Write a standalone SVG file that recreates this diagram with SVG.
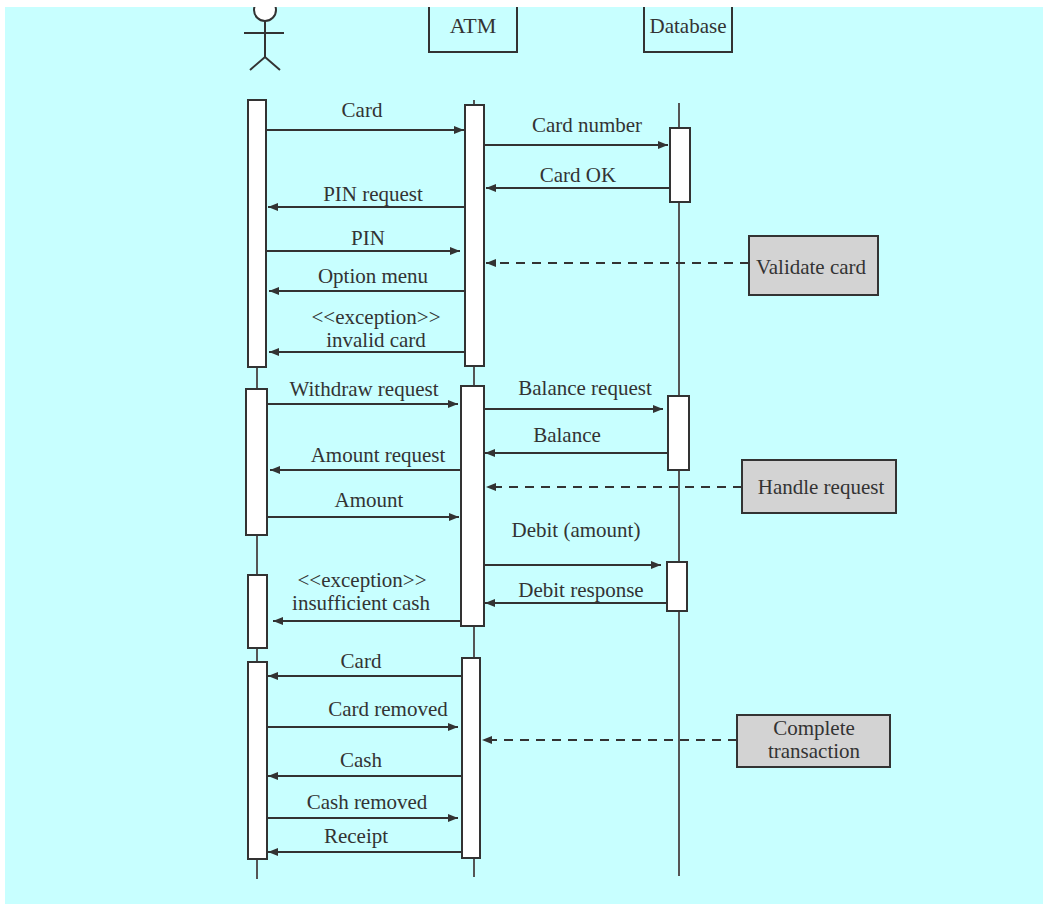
<svg xmlns="http://www.w3.org/2000/svg" width="1043" height="904" viewBox="0 0 1043 904">
<defs>
<clipPath id="page"><rect x="5" y="7" width="1038" height="897"/></clipPath>
<marker id="ah" markerUnits="userSpaceOnUse" markerWidth="12" markerHeight="10" refX="10" refY="4" orient="auto">
<path d="M0,0 L10,4 L0,8 z" fill="#333"/>
</marker>
</defs>
<style>
text{font-family:"Liberation Serif","Times New Roman",serif;font-size:21px;fill:#333;text-anchor:middle}
.life{stroke:#555;stroke-width:2;fill:none}
.bar{fill:#fff;stroke:#333;stroke-width:2}
.msg{stroke:#333;stroke-width:2;fill:none;marker-end:url(#ah)}
.dash{stroke:#333;stroke-width:2;fill:none;stroke-dasharray:9 7;marker-end:url(#ah)}
.note{fill:#d3d3d3;stroke:#333;stroke-width:2}
.obj{fill:none;stroke:#333;stroke-width:2}
</style>
<rect x="0" y="0" width="1043" height="904" fill="#fff"/>
<g clip-path="url(#page)">
<rect x="5" y="7" width="1038" height="897" fill="#c8ffff"/>
<g id="actor">
<circle cx="265" cy="10" r="11" fill="#fff" stroke="#333" stroke-width="2"/>
<line x1="265" y1="21" x2="265" y2="57" class="obj"/>
<line x1="244" y1="33" x2="284" y2="33" class="obj"/>
<polyline points="250,70 265,57 280,70" class="obj"/>
<line x1="257" y1="100" x2="257" y2="879" class="life"/>
<rect x="248" y="100" width="18" height="267" class="bar"/>
<rect x="246" y="389" width="21" height="146" class="bar"/>
<rect x="248" y="575" width="19" height="73" class="bar"/>
<rect x="248" y="662" width="19" height="197" class="bar"/>
</g>
<g id="atm">
<rect x="429" y="-5" width="88" height="57" class="obj"/>
<text x="473" y="33" style="font-size:22px">ATM</text>
<line x1="474" y1="100" x2="474" y2="877" class="life"/>
<rect x="465" y="105" width="19" height="261" class="bar"/>
<rect x="461" y="386" width="23" height="240" class="bar"/>
<rect x="462" y="658" width="18" height="200" class="bar"/>
</g>
<g id="database">
<rect x="644" y="-5" width="88" height="57" class="obj"/>
<text x="688" y="33">Database</text>
<line x1="679" y1="103" x2="679" y2="876" class="life"/>
<rect x="670" y="128" width="20" height="74" class="bar"/>
<rect x="668" y="396" width="21" height="74" class="bar"/>
<rect x="667" y="562" width="20" height="49" class="bar"/>
</g>
<g id="note-validate">
<rect x="749" y="236" width="129" height="59" class="note"/>
<text x="811" y="274">Validate card</text>
</g>
<g id="note-handle">
<rect x="742" y="460" width="154" height="53" class="note"/>
<text x="821" y="494">Handle request</text>
</g>
<g id="note-complete">
<rect x="737" y="715" width="153" height="52" class="note"/>
<text x="814" y="735">Complete</text>
<text x="814" y="758">transaction</text>
</g>
<g id="connectors">
<line x1="266" y1="130" x2="464" y2="130" class="msg"/>
<line x1="484" y1="145" x2="668" y2="145" class="msg"/>
<line x1="670" y1="188" x2="486" y2="188" class="msg"/>
<line x1="465" y1="207" x2="268" y2="207" class="msg"/>
<line x1="266" y1="251" x2="460" y2="251" class="msg"/>
<line x1="465" y1="291" x2="269" y2="291" class="msg"/>
<line x1="465" y1="352" x2="269" y2="352" class="msg"/>
<line x1="267" y1="404" x2="458" y2="404" class="msg"/>
<line x1="484" y1="409" x2="663" y2="409" class="msg"/>
<line x1="668" y1="453" x2="485" y2="453" class="msg"/>
<line x1="461" y1="470" x2="270" y2="470" class="msg"/>
<line x1="267" y1="517" x2="459" y2="517" class="msg"/>
<line x1="484" y1="565" x2="661" y2="565" class="msg"/>
<line x1="667" y1="603" x2="485" y2="603" class="msg"/>
<line x1="461" y1="621" x2="273" y2="621" class="msg"/>
<line x1="462" y1="676" x2="268" y2="676" class="msg"/>
<line x1="267" y1="727" x2="458" y2="727" class="msg"/>
<line x1="462" y1="776" x2="268" y2="776" class="msg"/>
<line x1="267" y1="818" x2="458" y2="818" class="msg"/>
<line x1="462" y1="852" x2="268" y2="852" class="msg"/>
<line x1="749" y1="263" x2="486" y2="263" class="dash"/>
<line x1="742" y1="487" x2="486" y2="487" class="dash"/>
<line x1="737" y1="740" x2="482" y2="740" class="dash"/>
</g>
<g id="labels">
<text x="362" y="117">Card</text>
<text x="587" y="132">Card number</text>
<text x="578" y="182">Card OK</text>
<text x="373" y="201">PIN request</text>
<text x="368" y="245">PIN</text>
<text x="373" y="283">Option menu</text>
<text x="376" y="324">&lt;&lt;exception&gt;&gt;</text>
<text x="376" y="347">invalid card</text>
<text x="364" y="396">Withdraw request</text>
<text x="585" y="395">Balance request</text>
<text x="567" y="442">Balance</text>
<text x="378" y="462">Amount request</text>
<text x="369" y="507">Amount</text>
<text x="576" y="537">Debit (amount)</text>
<text x="581" y="597">Debit response</text>
<text x="362" y="587">&lt;&lt;exception&gt;&gt;</text>
<text x="361" y="610">insufficient cash</text>
<text x="361" y="668">Card</text>
<text x="388" y="716">Card removed</text>
<text x="361" y="767">Cash</text>
<text x="367" y="809">Cash removed</text>
<text x="356" y="843">Receipt</text>
</g>
</g>
</svg>
